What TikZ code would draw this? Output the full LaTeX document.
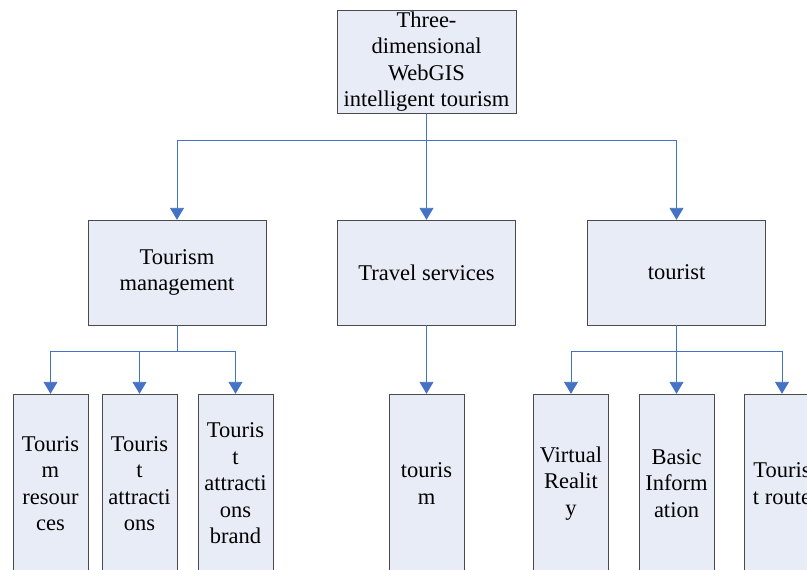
\documentclass[tikz,border=0pt]{standalone}
\usepackage{fontspec}
\setmainfont{Liberation Serif}
\usetikzlibrary{arrows.meta}
\definecolor{boxfill}{HTML}{E7ECF6}
\definecolor{boxline}{HTML}{4A4A4A}
\definecolor{linkblue}{HTML}{4472C4}
\tikzset{
  topbox/.style={
    rectangle,
    minimum width=179pt,
    minimum height=103pt,
    inner sep=0pt,
    align=center,
    draw=boxline,
    fill=boxfill
    },
  midbox/.style={
    rectangle,
    minimum width=178pt,
    minimum height=105pt,
    align=center,
    draw=boxline,
    fill=boxfill
    },
  leafbox/.style={
    rectangle,
    minimum width=75pt,
    minimum height=179pt,
    inner sep=0pt,
    align=center,
    draw=boxline,
    fill=boxfill
    },
  link/.style={linkblue,line width=0.9pt},
  arrow/.style={link,-{Triangle[width=14pt,length=12pt]}},
}
\begin{document}
\begin{tikzpicture}[
  x=1pt, y=-1pt,
  font=\fontsize{22.5}{26.5}\selectfont
  ]
\clip (0,0) rectangle (807,570);
\fill[white] (0,0) rectangle (807,570);
% top
\node (top) [topbox] at (426.5,61.5) {Three-\\dimensional\\WebGIS\\intelligent tourism};
% second row
\node (mgmt) [midbox] at (177,272.5) {Tourism\\management};
\node (travel) [midbox] at (426.5,272.5) {Travel services};
\node (tourist) [midbox] at (676.5,272.5) {tourist};
% third row
\node (res) [leafbox] at (50.5,483.5) {Touris\\m\\resour\\ces};
\node (attr) [leafbox] at (139.5,483.5) {Touris\\t\\attracti\\ons};
\node (brand) [leafbox] at (235.5,483.5) {Touris\\t\\attracti\\ons\\brand};
\node (serv) [leafbox] at (426.5,483.5) {touris\\m};
\node (vr) [leafbox] at (571,483.5) {Virtual\\Realit\\y};
\node (info) [leafbox] at (676.5,483.5) {Basic\\Inform\\ation};
\node (route) [leafbox] at (782,483.5) {Touris\\t route};
% junctions
\coordinate (j1) at (426.5,140);
\coordinate (j2) at (177,351);
\coordinate (j3) at (676.5,351);
\draw[link] (top) -- (j1);
\draw[arrow] (j1) -| (mgmt);
\draw[arrow] (j1) -- (travel);
\draw[arrow] (j1) -| (tourist);
\draw[link] (mgmt) -- (j2);
\draw[arrow] (j2) -| (res);
\draw[arrow] (j2) -| (attr);
\draw[arrow] (j2) -| (brand);
\draw[arrow] (travel) -- (serv);
\draw[link] (tourist) -- (j3);
\draw[arrow] (j3) -| (vr);
\draw[arrow] (j3) -- (info);
\draw[arrow] (j3) -| (route);
\end{tikzpicture}
\end{document}
